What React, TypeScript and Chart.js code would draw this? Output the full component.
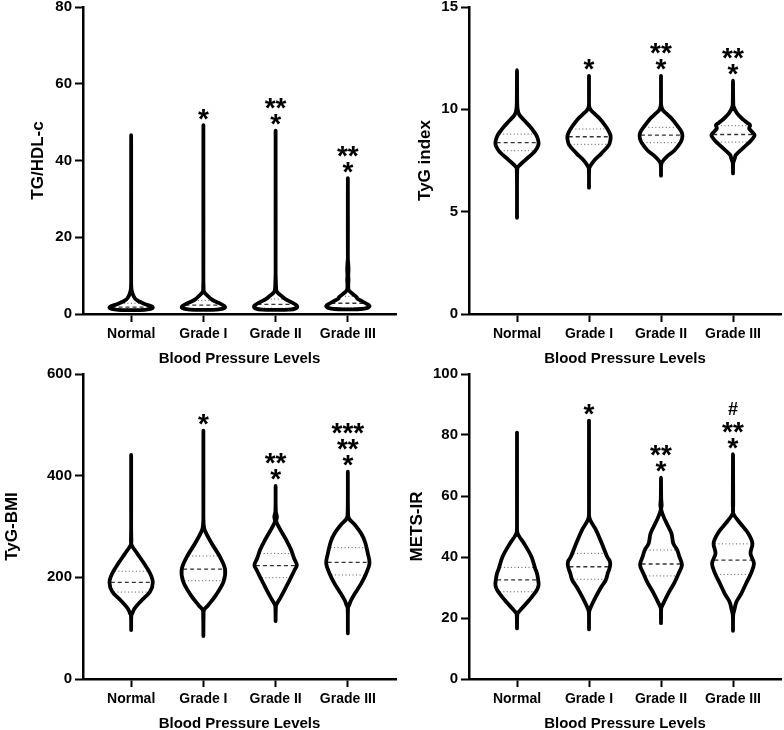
import React, { useEffect, useRef } from "react";
import { Chart, registerables } from "chart.js";

Chart.register(...registerables);

const FONT = '"Liberation Sans", Arial, Helvetica, sans-serif';

const CATEGORIES = ["Normal", "Grade I", "Grade II", "Grade III"];
const X_TITLE = "Blood Pressure Levels";

// ---------- TG/HDL-c ----------
const TGHDL_TICKS = [0, 20, 40, 60, 80];
const TGHDL_VALUES = [
  [1.0, 1.1, 1.3, 1.6, 2.0, 2.5, 3.0, 3.5, 4.1, 5.4, 6.7, 10, 46.6],
  [1.05, 1.15, 1.4, 1.9, 2.5, 3.2, 3.8, 4.5, 5.8, 7.1, 9, 49.2],
  [1.05, 1.15, 1.4, 2.0, 2.6, 3.2, 3.8, 4.5, 5.8, 7.1, 8.9, 10.6, 47.8],
  [1.2, 1.3, 1.6, 2.1, 2.8, 3.4, 4.0, 4.5, 5.4, 6.25, 7.5, 9, 10, 11.5, 13, 14.6, 35.4],
];
const TGHDL_DENSITY = [
  [0, 60, 90, 100, 93, 68, 47, 30, 17, 6, 1, 0, 0],
  [0, 60, 90, 100, 84, 58, 38, 24, 3, 1, 0, 0],
  [0, 60, 90, 100, 88, 68, 47, 31, 6, 2, 1, 0, 0],
  [0, 60, 90, 100, 82, 63, 45, 38, 19, 4, 2, 3, 2, 3, 2, 0, 0],
];
const TGHDL_QUARTILES = [
  [1.3, 1.8, 2.8],
  [1.4, 2.3, 3.5],
  [1.5, 2.5, 3.9],
  [1.6, 2.8, 4.6],
];
const TGHDL_MARKS = [[], ["*"], ["**", "*"], ["**", "*"]];

// ---------- TyG index ----------
const TYG_TICKS = [0, 5, 10, 15];
const TYG_VALUES = [
  [4.7, 7.05, 7.2, 7.52, 7.93, 8.2, 8.37, 8.6, 8.78, 9.0, 9.15, 9.48, 9.75, 10.0, 10.3, 11.92],
  [6.17, 7.1, 7.23, 7.52, 7.85, 8.26, 8.5, 8.7, 8.9, 9.15, 9.55, 9.8, 9.97, 10.15, 10.5, 11.63],
  [6.76, 7.3, 7.44, 7.68, 8.0, 8.34, 8.55, 8.74, 8.9, 9.15, 9.55, 9.8, 9.97, 10.2, 10.5, 11.63],
  [6.87, 7.4, 7.45, 7.6, 7.77, 8.1, 8.42, 8.6, 8.74, 8.9, 9.07, 9.23, 9.35, 9.48, 9.8, 10.13, 10.4, 11.4],
];
const TYG_DENSITY = [
  [0, 1, 6, 38, 81, 97, 100, 95, 87, 72, 61, 32, 10, 3, 1, 0],
  [0, 1, 6, 26, 58, 92, 99, 100, 93, 79, 49, 24, 8, 1, 0, 0],
  [0, 1, 6, 26, 63, 88, 97, 99, 95, 79, 49, 24, 8, 1, 0, 0],
  [0, 1, 3, 8, 13, 46, 79, 93, 100, 88, 75, 79, 65, 49, 19, 3, 1, 0],
];
const TYG_QUARTILES = [
  [7.98, 8.37, 8.79],
  [8.29, 8.66, 9.04],
  [8.37, 8.74, 9.12],
  [8.4, 8.77, 9.2],
];
const TYG_MARKS = [[], ["*"], ["**", "*"], ["**", "*"]];

// ---------- TyG-BMI ----------
const BMI_TICKS = [0, 200, 400, 600];
const BMI_VALUES = [
  [96.4, 125, 130, 139, 155, 171.8, 190, 208, 227.6, 247, 263.6, 273, 300, 440.7],
  [84.6, 125, 135.7, 145.6, 165, 191.4, 215.7, 240.6, 267, 293, 306, 330, 488.5],
  [114, 140, 145.6, 162, 181.6, 201, 214, 224, 237.5, 253.8, 273.5, 296, 310, 319, 330, 379.7],
  [90, 140, 145.6, 155, 171.8, 188, 208, 227.6, 247.3, 270, 286.6, 303, 315, 325, 407.9],
];
const BMI_DENSITY = [
  [0, 1, 6, 16, 49, 87, 100, 87, 59, 28, 2, 1, 0, 0],
  [0, 1, 3, 23, 58, 93, 100, 76, 38, 6, 1, 0, 0],
  [0, 1, 3, 25, 49, 72, 87, 98, 85, 72, 49, 19, 3, 6, 1, 0],
  [0, 1, 6, 15, 38, 62, 85, 100, 92, 79, 61, 33, 6, 1, 0],
];
const BMI_QUARTILES = [
  [171, 190, 212],
  [193.4, 216, 242],
  [199.3, 223, 247],
  [204.6, 229.5, 258.4],
];
const BMI_MARKS = [[], ["*"], ["**", "*"], ["***", "**", "*"]];

// ---------- METS-IR ----------
const METS_TICKS = [0, 20, 40, 60, 80, 100];
const METS_VALUES = [
  [16.6, 20.5, 21.5, 23.2, 25.9, 29.2, 30.8, 32.5, 34.5, 36.3, 40.1, 44.5, 47, 48.3, 52, 80.8],
  [16.3, 22, 23.7, 27, 30.3, 32.5, 34.7, 36.8, 38.5, 40.1, 44.5, 48.9, 51.5, 53.2, 56, 84.7],
  [18.3, 23, 24.8, 28.1, 31.4, 34.7, 37.4, 40.1, 42.3, 44.5, 47.8, 52.1, 55.4, 57, 59, 66],
  [15.8, 21, 22.6, 25.3, 28.1, 31.4, 34.7, 37.9, 41.2, 44.5, 47.8, 51, 54.3, 57, 73.7],
];
const METS_DENSITY = [
  [0, 1, 3, 23, 57, 92, 100, 98, 93, 84, 67, 32, 8, 1, 0, 0],
  [0, 1, 9, 32, 58, 78, 87, 97, 97, 84, 59, 32, 10, 1, 0, 0],
  [0, 1, 11, 34, 61, 82, 97, 85, 75, 57, 48, 19, 1, 3, 1, 0],
  [0, 1, 6, 16, 39, 61, 84, 97, 81, 90, 70, 34, 1, 1, 0],
];
const METS_QUARTILES = [
  [28.6, 32.5, 36.6],
  [32.7, 36.8, 41.2],
  [33.8, 37.7, 42.3],
  [34.3, 39.0, 44.3],
];
const METS_MARKS = [[], ["*"], ["**", "*"], ["#", "**", "*"]];

type PanelDef = {
  yTitle: string;
  ticks: number[];
  values: number[][];
  density: number[][];
  quartiles: number[][];
  marks: string[][];
  left: number;
  top: number;
  width: number;
  height: number;
  axisW: number;
  titlePad: number;
  padRight: number;
};

const PANELS: PanelDef[] = [
  { yTitle: "TG/HDL-c", ticks: TGHDL_TICKS, values: TGHDL_VALUES, density: TGHDL_DENSITY, quartiles: TGHDL_QUARTILES, marks: TGHDL_MARKS, left: 0, top: -5, width: 400, height: 375, axisW: 83, titlePad: 28, padRight: 4 },
  { yTitle: "TyG index", ticks: TYG_TICKS, values: TYG_VALUES, density: TYG_DENSITY, quartiles: TYG_QUARTILES, marks: TYG_MARKS, left: 392, top: -5, width: 392, height: 375, axisW: 77, titlePad: 23, padRight: 3 },
  { yTitle: "TyG-BMI", ticks: BMI_TICKS, values: BMI_VALUES, density: BMI_DENSITY, quartiles: BMI_QUARTILES, marks: BMI_MARKS, left: 0, top: 362, width: 400, height: 373, axisW: 83, titlePad: 2, padRight: 4 },
  { yTitle: "METS-IR", ticks: METS_TICKS, values: METS_VALUES, density: METS_DENSITY, quartiles: METS_QUARTILES, marks: METS_MARKS, left: 392, top: 362, width: 392, height: 373, axisW: 77, titlePad: 15, padRight: 3 },
];

const HALF_WIDTH = 21.6 / 72; // x-units for full density

function densityAt(vals: number[], dens: number[], q: number) {
  for (let k = 0; k < vals.length - 1; k++) {
    if (q >= vals[k] && q <= vals[k + 1]) {
      const t = (q - vals[k]) / (vals[k + 1] - vals[k]);
      return dens[k] + t * (dens[k + 1] - dens[k]);
    }
  }
  return 0;
}

function PanelChart({ p }: { p: PanelDef }) {
  const ref = useRef<HTMLCanvasElement | null>(null);
  useEffect(() => {
    if (!ref.current) return;
    const datasets: any[] = [];
    p.values.forEach((vals, i) => {
      const d = p.density[i];
      const pts: { x: number; y: number }[] = [];
      for (let k = 0; k < vals.length; k++) pts.push({ x: i + (d[k] / 100) * HALF_WIDTH, y: vals[k] });
      for (let k = vals.length - 2; k >= 0; k--) pts.push({ x: i - (d[k] / 100) * HALF_WIDTH, y: vals[k] });
      datasets.push({
        data: pts,
        showLine: true,
        borderColor: "#000",
        borderWidth: 3.8,
        pointRadius: 0,
        pointHoverRadius: 0,
        tension: 0.35,
        fill: false,
        borderJoinStyle: "round",
        borderCapStyle: "round",
      });
      p.quartiles[i].forEach((q, j) => {
        const w = Math.max(0, (densityAt(vals, d, q) / 100) * HALF_WIDTH - 0.018);
        datasets.push({
          data: [
            { x: i - w, y: q },
            { x: i + w, y: q },
          ],
          showLine: true,
          borderColor: j === 1 ? "#333" : "#555",
          borderWidth: j === 1 ? 1.3 : 1,
          borderDash: j === 1 ? [4, 3] : [1, 2.5],
          pointRadius: 0,
          pointHoverRadius: 0,
          tension: 0,
        });
      });
    });

    const tops = p.values.map((v) => v[v.length - 1]);
    const marksPlugin = {
      id: "sigMarks",
      afterDatasetsDraw(chart: any) {
        const { ctx } = chart;
        const xs = chart.scales.x;
        const ys = chart.scales.y;
        ctx.save();
        ctx.fillStyle = "#000";
        ctx.textAlign = "center";
        ctx.textBaseline = "alphabetic";
        p.marks.forEach((rows, i) => {
          const cx = xs.getPixelForValue(i);
          let cy = ys.getPixelForValue(tops[i]) - 11;
          for (let r = rows.length - 1; r >= 0; r--) {
            const t = rows[r];
            const isHash = t.includes("#");
            ctx.font = `bold ${isHash ? 18 : 28}px ${FONT}`;
            const m = ctx.measureText(t);
            const base = cy + (m.actualBoundingBoxAscent - m.actualBoundingBoxDescent) / 2;
            ctx.fillText(t, cx, base);
            cy -= r > 0 && rows[r - 1].includes("#") ? 19 : 16;
          }
        });
        ctx.restore();
      },
    };

    const chart = new Chart(ref.current, {
      type: "scatter",
      data: { datasets },
      plugins: [marksPlugin],
      options: {
        responsive: false,
        animation: false,
        devicePixelRatio: 1,
        events: [],
        layout: { padding: { top: 12, right: p.padRight, left: 0, bottom: 0 } },
        plugins: { legend: { display: false }, tooltip: { enabled: false } },
        scales: {
          x: {
            type: "linear",
            min: -2 / 3,
            max: 3 + 2 / 3,
            afterBuildTicks: (s: any) => {
              s.ticks = CATEGORIES.map((_, i) => ({ value: i }));
            },
            afterFit: (s: any) => {
              s.height = 56;
            },
            ticks: {
              callback: (_v: any, idx: number) => CATEGORIES[idx],
              font: { family: FONT, size: 14, weight: "bold" },
              color: "#000",
              padding: 4,
              maxRotation: 0,
              autoSkip: false,
            },
            grid: { drawOnChartArea: false, drawTicks: true, tickLength: 8, tickWidth: 2, tickColor: "#000" },
            border: { display: true, color: "#000", width: 2.5 },
            title: {
              display: true,
              text: X_TITLE,
              font: { family: FONT, size: 15, weight: "bold" },
              color: "#000",
              padding: { top: 0, bottom: 2 },
            },
          },
          y: {
            type: "linear",
            min: p.ticks[0],
            max: p.ticks[p.ticks.length - 1],
            afterBuildTicks: (s: any) => {
              s.ticks = p.ticks.map((v) => ({ value: v }));
            },
            afterFit: (s: any) => {
              s.width = p.axisW;
            },
            ticks: {
              callback: (v: any) => String(v),
              font: { family: FONT, size: 15, weight: "bold" },
              color: "#000",
              padding: 3,
            },
            grid: { drawOnChartArea: false, drawTicks: true, tickLength: 8, tickWidth: 2, tickColor: "#000" },
            border: { display: true, color: "#000", width: 2.5 },
            title: {
              display: true,
              text: p.yTitle,
              font: { family: FONT, size: 17, weight: "bold" },
              color: "#000",
              padding: { top: p.titlePad, bottom: 0 },
            },
          },
        },
      } as any,
    });
    return () => chart.destroy();
  }, [p]);
  return (
    <canvas
      ref={ref}
      width={p.width}
      height={p.height}
      style={{ position: "absolute", left: p.left, top: p.top, width: p.width, height: p.height }}
    />
  );
}

export default function App() {
  return (
    <div
      style={{
        position: "fixed",
        left: 0,
        top: 0,
        width: 784,
        height: 730,
        overflow: "hidden",
        background: "#fff",
      }}
    >
      {PANELS.map((p, i) => (
        <PanelChart key={i} p={p} />
      ))}
    </div>
  );
}
